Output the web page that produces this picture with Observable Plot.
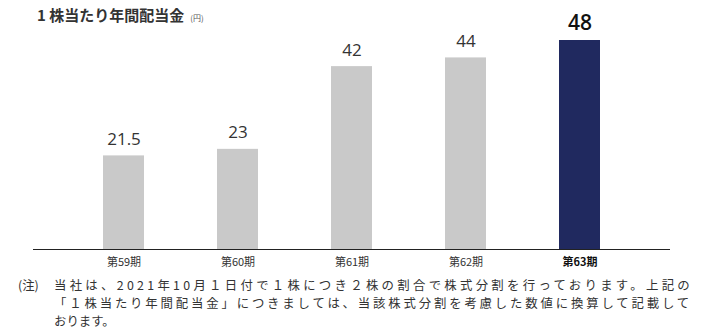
<!DOCTYPE html>
<html>
<head>
<meta charset="utf-8">
<script src="https://cdn.jsdelivr.net/npm/d3@7"></script>
<script src="https://cdn.jsdelivr.net/npm/@observablehq/plot@0.6"></script>
<style>
  html, body { margin: 0; padding: 0; background: #fff; }
  #wrap { position: relative; width: 720px; height: 333px; overflow: hidden; }
  #title { position: absolute; left: 37px; top: 5px; font-family: "Noto Sans CJK JP", sans-serif; font-weight: 700; font-size: 15px; color: #333; white-space: nowrap; line-height: 20px; }
  #title small { font-size: 8px; font-weight: 400; color: #555; margin-left: 6px; }
  #chart { position: absolute; left: 0; top: 0; }
  #note { position: absolute; left: 0; top: 276px; width: 720px; font-family: "Noto Sans CJK JP", sans-serif; font-size: 12.4px; line-height: 18px; color: #333; }
  #note .tag { position: absolute; left: 18px; top: 0; letter-spacing: 0px; }
  #note .body { position: absolute; left: 54px; top: 0; white-space: nowrap; }
  #note .line { display: block; }
</style>
</head>
<body>
<div id="wrap">
  <div id="chart"></div>
  <div id="title">1 株当たり年間配当金<small>(円)</small></div>
  <div id="note"><span class="tag">(注)</span><div class="body"></div></div>
</div>
<script>
const periods = ["第59期", "第60期", "第61期", "第62期", "第63期"];
const dividends = [21.5, 23, 42, 44, 48];
const labels = ["21.5", "23", "42", "44", "48"];
const highlight = "第63期";
const noteLines = [
  "当社は、2021年10月１日付で１株につき２株の割合で株式分割を行っております。上記の",
  "「１株当たり年間配当金」につきましては、当該株式分割を考慮した数値に換算して記載して",
  "おります。"
];

const data = periods.map((p, i) => ({period: p, value: dividends[i], label: labels[i]}));
const normal = data.filter(d => d.period !== highlight);
const last = data.filter(d => d.period === highlight);

const chart = Plot.plot({
  width: 720,
  height: 270,
  marginLeft: 33,
  marginRight: 50,
  marginTop: 40,
  marginBottom: 21,
  x: {domain: periods, paddingInner: 0.64, paddingOuter: 0.6, axis: null},
  y: {domain: [0, 48], axis: null},
  style: {fontFamily: "'Open Sans', sans-serif", background: "transparent"},
  marks: [
    Plot.barY(data, {x: "period", y: "value", fill: d => d.period === highlight ? "#20295f" : "#c9c9c9"}),
    Plot.ruleY([0], {stroke: "#222", strokeWidth: 1.2}),
    Plot.text(normal, {x: "period", y: "value", text: "label", dy: -16.5, lineAnchor: "middle", fontSize: 17, fill: "#333"}),
    Plot.text(last, {x: "period", y: "value", text: "label", dy: -17, lineAnchor: "middle", fontSize: 21, fontWeight: 600, fill: "#111"}),
    Plot.text(normal, {x: "period", y: 0, text: "period", dy: 13, lineAnchor: "middle", fontSize: 11, fill: "#333", fontFamily: "'Noto Sans CJK JP', sans-serif"}),
    Plot.text(last, {x: "period", y: 0, text: "period", dy: 13, lineAnchor: "middle", fontSize: 11, fontWeight: 700, fill: "#111", fontFamily: "'Noto Sans CJK JP', sans-serif"})
  ]
});
document.getElementById("chart").appendChild(chart);

// footnote: stretch the first two lines to the reference widths
const targets = [639, 638, null];
const body = document.querySelector("#note .body");
noteLines.forEach((t, i) => {
  const s = document.createElement("span");
  s.className = "line";
  s.textContent = t;
  body.appendChild(s);
});
const spans = body.querySelectorAll(".line");
spans.forEach((s, i) => {
  if (!targets[i]) return;
  s.style.display = "inline-block";
  const natural = s.getBoundingClientRect().width;
  const n = [...noteLines[i]].length;
  s.style.letterSpacing = ((targets[i] - natural) / n) + "px";
  s.style.display = "block";
});
</script>
</body>
</html>
